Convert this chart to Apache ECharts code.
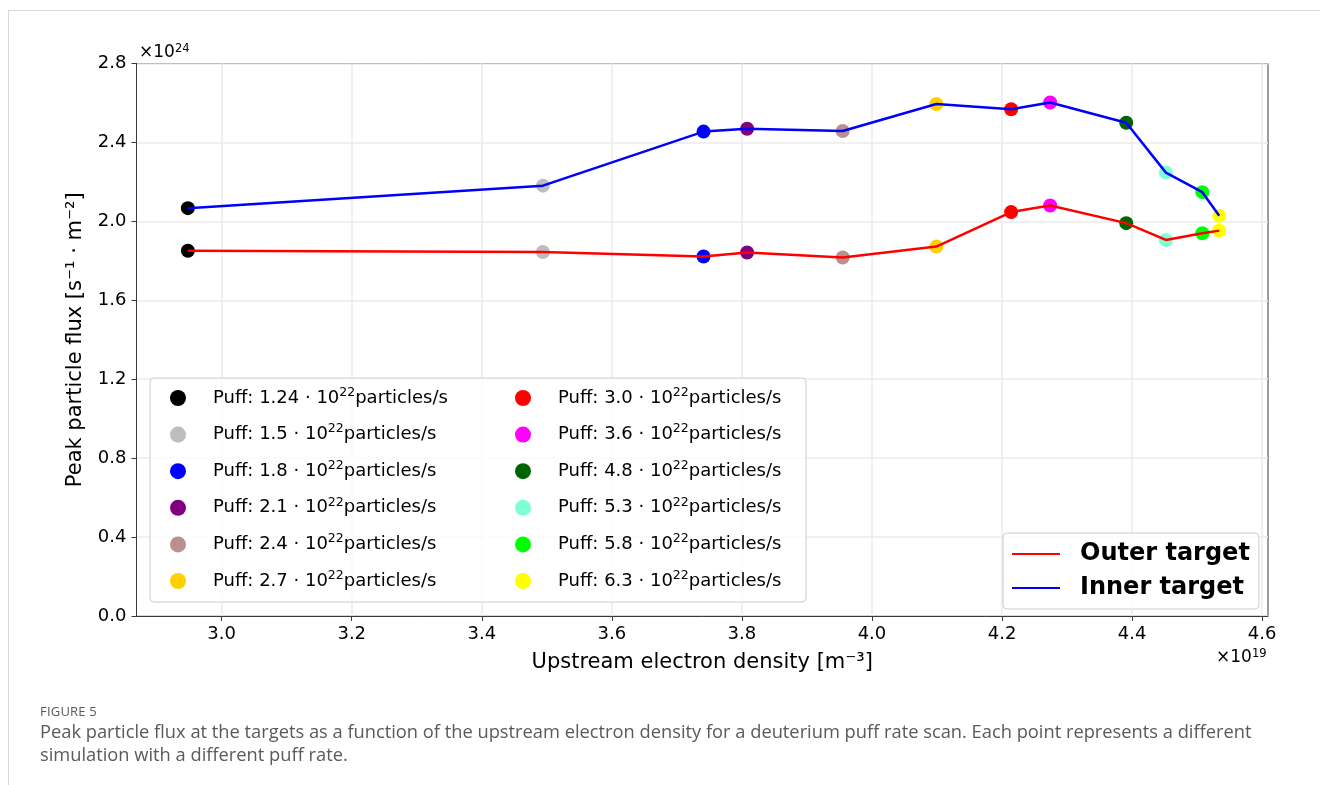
<!DOCTYPE html>
<html>
<head>
<meta charset="utf-8">
<script src="https://cdn.jsdelivr.net/npm/echarts@6/dist/echarts.min.js"></script>
<style>
    html, body { margin: 0; padding: 0; background: #fff; }
    #wrap { position: relative; width: 1320px; height: 785px; overflow: hidden; }
    #frame { position: absolute; left: 8px; top: 10px; right: -2px; bottom: -2px;
             border-top: 1px solid #d8d8d8; border-left: 1px solid #d8d8d8; }
    #chartFlux { position: absolute; left: 0; top: 0; width: 1320px; height: 785px; }
    #caption { position: absolute; left: 40px; top: 703px; width: 1245px;
               font-family: 'Open Sans', 'Noto Sans', sans-serif; color: #5a5a5a; }
    #caption .fig { font-size: 13px; letter-spacing: 0.2px; line-height: 16px; }
    #caption .txt { font-size: 18.3px; line-height: 23px; }
</style>
</head>
<body>
<div id="wrap">
    <div id="frame"></div>
    <div id="chartFlux"></div>
    <div id="caption">
        <div class="fig">FIGURE 5</div>
        <div class="txt">Peak particle flux at the targets as a function of the upstream electron density for a deuterium puff rate scan. Each point represents a different simulation with a different puff rate.</div>
    </div>
</div>
<script>
// puff rates (x10^22 particles/s)
const puffRates = ['1.24', '1.5', '1.8', '2.1', '2.4', '2.7', '3.0', '3.6', '4.8', '5.3', '5.8', '6.3']
const puffColors = ['#000000', '#bdbdbd', '#0000ff', '#800080', '#bc8f8f', '#ffd000',
                    '#ff0000', '#ff00ff', '#006400', '#7fffd4', '#00ff00', '#ffff00']
// upstream electron density (x10^19 m^-3)
const density = [2.948, 3.494, 3.741, 3.808, 3.955, 4.099, 4.214, 4.274, 4.391, 4.452, 4.508, 4.534]
// peak particle flux (x10^24 s^-1 m^-2)
const innerFlux = [2.067, 2.181, 2.455, 2.469, 2.458, 2.595, 2.568, 2.602, 2.500, 2.247, 2.148, 2.028]
const outerFlux = [1.851, 1.845, 1.822, 1.842, 1.817, 1.872, 2.047, 2.080, 1.991, 1.906, 1.940, 1.953]
const xTicks = [3.0, 3.2, 3.4, 3.6, 3.8, 4.0, 4.2, 4.4, 4.6]
const yTicks = [0.0, 0.4, 0.8, 1.2, 1.6, 2.0, 2.4, 2.8]

const FONT = 'DejaVu Sans'

let scatterSeries = puffRates.map(function (rate, i) {
    return {
        name: rate,
        type: 'scatter',
        symbolSize: 14,
        z: 2,
        itemStyle: { color: puffColors[i], opacity: 1 },
        data: [[density[i], innerFlux[i]], [density[i], outerFlux[i]]]
    }
})

let lineSeries = [
    {
        name: 'Outer target',
        type: 'line',
        symbol: 'none',
        z: 3,
        color: '#ff0000',
        lineStyle: { color: '#ff0000', width: 2.5 },
        data: density.map(function (d, i) { return [d, outerFlux[i]] })
    },
    {
        name: 'Inner target',
        type: 'line',
        symbol: 'none',
        z: 3,
        color: '#0000ff',
        lineStyle: { color: '#0000ff', width: 2.5 },
        data: density.map(function (d, i) { return [d, innerFlux[i]] })
    }
]

let puffLegendText = {
    fontFamily: FONT,
    fontSize: 18,
    lineHeight: 24,
    color: '#000',
    rich: {
        sup: { fontFamily: FONT, fontSize: 12.5, lineHeight: 14, verticalAlign: 'top', color: '#000' }
    }
}

function puffLegend(names, left) {
    return {
        data: names,
        orient: 'vertical',
        left: left,
        top: 386,
        padding: 0,
        itemWidth: 60,
        itemHeight: 16,
        itemGap: 12.6,
        icon: 'circle',
        selectedMode: false,
        z: 10,
        formatter: function (name) {
            return 'Puff: ' + name + ' \u00b7 10{sup|22}particles/s'
        },
        textStyle: puffLegendText
    }
}

let fluxOption = {
    animation: false,
    backgroundColor: 'transparent',
    grid: {
        left: 136.5,
        right: 52,
        top: 63.5,
        bottom: 169,
        show: true,
        borderColor: '#3a3a3a',
        borderWidth: 1
    },
    xAxis: {
        type: 'value',
        min: 2.869,
        max: 4.609,
        name: 'Upstream electron density [m\u207b\u00b3]',
        nameLocation: 'middle',
        nameGap: 36,
        nameTextStyle: { fontFamily: FONT, fontSize: 21, color: '#000' },
        axisLine: { show: true, lineStyle: { color: '#3a3a3a', width: 1 } },
        axisTick: { show: true, length: 5, customValues: xTicks, lineStyle: { color: '#3a3a3a' } },
        axisLabel: {
            customValues: xTicks,
            margin: 9,
            fontFamily: FONT,
            fontSize: 18,
            color: '#000',
            formatter: function (v) { return v.toFixed(1) }
        },
        splitLine: { show: true, lineStyle: { color: '#ebebeb', width: 1.5 } }
    },
    yAxis: {
        type: 'value',
        min: 0,
        max: 2.8,
        interval: 0.4,
        name: 'Peak particle flux [s\u207b\u00b9 \u00b7 m\u207b\u00b2]',
        nameLocation: 'middle',
        nameGap: 50,
        nameTextStyle: { fontFamily: FONT, fontSize: 21, color: '#000' },
        axisLine: { show: true, lineStyle: { color: '#3a3a3a', width: 1 } },
        axisTick: { show: true, length: 5, lineStyle: { color: '#3a3a3a' } },
        axisLabel: {
            margin: 10,
            fontFamily: FONT,
            fontSize: 18,
            color: '#000',
            formatter: function (v) { return v.toFixed(1) }
        },
        splitLine: { show: true, lineStyle: { color: '#ebebeb', width: 1.5 } }
    },
    legend: [
        puffLegend(puffRates.slice(0, 6), 170),
        puffLegend(puffRates.slice(6), 515),
        {
            data: ['Outer target', 'Inner target'],
            orient: 'vertical',
            left: 1003,
            top: 533,
            padding: [7, 9, 7, 9],
            itemWidth: 48,
            itemHeight: 2,
            itemGap: 6,
            icon: 'rect',
            selectedMode: false,
            z: 10,
            backgroundColor: 'rgba(255,255,255,0.85)',
            borderColor: '#cccccc',
            borderWidth: 1,
            borderRadius: 4,
            textStyle: {
                fontFamily: FONT,
                fontSize: 24,
                fontWeight: 'bold',
                lineHeight: 28,
                color: '#000',
                padding: [0, 0, 0, 15]
            }
        }
    ],
    graphic: [
        {
            type: 'rect',
            z: 5,
            shape: { x: 150, y: 378, width: 656, height: 224, r: 4 },
            style: { fill: 'rgba(255,255,255,0.85)', stroke: '#cccccc', lineWidth: 1 }
        },
        {
            type: 'text',
            x: 139,
            y: 43,
            z: 5,
            style: {
                text: '\u00d710{s|24}',
                fontFamily: FONT,
                fontSize: 17,
                lineHeight: 20,
                fill: '#000',
                rich: { s: { fontFamily: FONT, fontSize: 11.5, lineHeight: 12, verticalAlign: 'top', fill: '#000' } }
            }
        },
        {
            type: 'text',
            x: 1216,
            y: 648,
            z: 5,
            style: {
                text: '\u00d710{s|19}',
                fontFamily: FONT,
                fontSize: 17,
                lineHeight: 20,
                fill: '#000',
                rich: { s: { fontFamily: FONT, fontSize: 11.5, lineHeight: 12, verticalAlign: 'top', fill: '#000' } }
            }
        }
    ],
    series: scatterSeries.concat(lineSeries)
}

let mychart = echarts.init(document.getElementById('chartFlux'))
mychart.setOption(fluxOption)
</script>
</body>
</html>
